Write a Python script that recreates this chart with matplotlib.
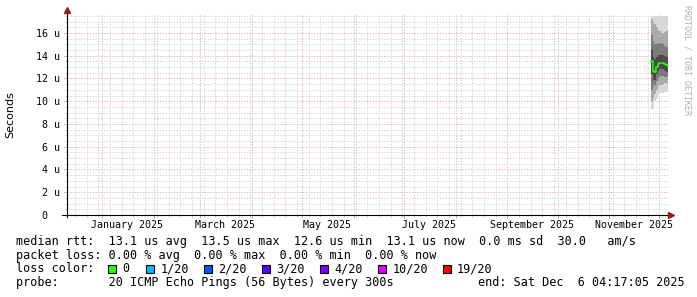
import numpy as np
import pandas as pd
import matplotlib.pyplot as plt
import matplotlib.dates as mdates
from matplotlib.patches import Rectangle

plt.rcParams['font.family'] = ['DejaVu Sans Mono']

# time range of the graph
end_time = pd.Timestamp('2025-12-06 04:17:05')
start_time = end_time - pd.Timedelta(days=360)

# smoke / median data (microseconds), one sample per day
days = ['2025-11-26 00:00:00', '2025-11-27 00:00:00', '2025-11-28 00:00:00',
        '2025-11-29 00:00:00', '2025-11-30 00:00:00', '2025-12-01 00:00:00',
        '2025-12-02 00:00:00', '2025-12-03 00:00:00', '2025-12-04 00:00:00',
        '2025-12-05 00:00:00', '2025-12-06 04:17:05']
median = [13.5, 12.7, 12.6, 13.0, 13.3, 13.4, 13.4, 13.4, 13.3, 13.2, 13.1]
ping_max = [17.5, 17.5, 17.5, 17.5, 17.5, 17.5, 17.5, 17.5, 17.5, 17.5, 17.5]
ping_min = [9.3, 9.5, 10.0, 10.2, 10.6, 10.7, 10.7, 10.7, 10.8, 10.8, 10.8]
p90 = [17.2, 17.0, 16.8, 16.5, 16.3, 16.2, 16.0, 16.0, 16.1, 16.2, 16.2]
p10 = [10.0, 10.3, 10.6, 11.0, 11.3, 11.4, 11.4, 11.5, 11.6, 11.6, 11.6]
p75 = [15.8, 15.3, 15.0, 15.0, 15.0, 15.1, 15.0, 15.0, 14.9, 14.8, 14.8]
p25 = [11.0, 11.3, 11.4, 11.8, 12.0, 12.2, 12.2, 12.2, 12.1, 12.1, 12.1]
p60 = [14.5, 13.9, 13.7, 13.9, 14.1, 14.1, 14.1, 14.1, 14.0, 13.9, 13.9]
p40 = [12.4, 11.9, 11.9, 12.4, 12.7, 12.8, 12.8, 12.8, 12.7, 12.6, 12.5]

# y axis
y_ticks = [0, 2, 4, 6, 8, 10, 12, 14, 16]
y_labels = ['0  ', ' 2 u', ' 4 u', ' 6 u', ' 8 u', '10 u', '12 u', '14 u', '16 u']

# x labels (every second month)
month_labels = ['January 2025', 'March 2025', 'May 2025', 'July 2025',
                'September 2025', 'November 2025']
month_starts = ['2025-01-01', '2025-03-01', '2025-05-01', '2025-07-01',
                '2025-09-01', '2025-11-01']

# legend texts
legend_lines = [
    'median rtt:  13.1 us avg  13.5 us max  12.6 us min  13.1 us now  0.0 ms sd  30.0   am/s',
    'packet loss: 0.00 % avg  0.00 % max  0.00 % min  0.00 % now',
    'loss color:',
    'probe:       20 ICMP Echo Pings (56 Bytes) every 300s',
]
end_text = 'end: Sat Dec  6 04:17:05 2025'
loss_labels = ['0', '1/20', '2/20', '3/20', '4/20', '10/20', '19/20']
loss_colors = ['#26ff00', '#00b8ff', '#0059ff', '#5e00ff', '#7e00ff', '#dd00ff', '#ff0000']

W, H = 697, 297
fig = plt.figure(figsize=(W / 100, H / 100), dpi=100)
fig.patch.set_facecolor('white')
ax = fig.add_axes([67 / W, (H - 215) / H, 601 / W, 201 / H])

x = mdates.date2num(pd.to_datetime(days, format='%Y-%m-%d %H:%M:%S'))

# smoke bands, outer light to inner dark
bands = [(ping_min, ping_max, '#d8d8d8'),
         (p10, p90, '#aaaaaa'),
         (p25, p75, '#7c7c7c'),
         (p40, p60, '#4a4a4a')]
for lo, hi, c in bands:
    ax.fill_between(x, lo, hi, step='post', color=c, linewidth=0, zorder=2)

ax.step(x, median, where='post', color='#26ff00', linewidth=1.1, zorder=3)

ax.set_xlim(mdates.date2num(start_time), mdates.date2num(end_time))
ax.set_ylim(0, 17.67)

# grid
ax.xaxis.set_major_locator(mdates.MonthLocator())
ax.xaxis.set_minor_locator(mdates.WeekdayLocator(byweekday=mdates.MO))
ax.set_yticks(y_ticks)
ax.set_yticks(np.arange(0, 17.6, 0.5), minor=True)
ax.set_yticklabels(y_labels, fontsize=7.2)
ax.set_xticklabels([])
dots = (0, (1.4, 1.4))
ax.grid(which='minor', color='#d8d8d8', linestyle=dots, linewidth=0.72, zorder=0)
ax.grid(which='major', color='#f0b4b4', linestyle=dots, linewidth=0.72, zorder=1)
ax.set_axisbelow(True)
ax.tick_params(which='major', length=2.2, width=0.7, color='#aaaaaa', pad=3)
ax.tick_params(which='minor', length=1.4, width=0.7, color='#cccccc')
for s in ax.spines.values():
    s.set_visible(False)

# axis lines with arrows
axc = '#000000'
ax.plot([-5 / 601, 603 / 601], [0, 0], transform=ax.transAxes, color=axc,
        lw=0.8, clip_on=False, zorder=5)
ax.plot([0, 0], [-2 / 201, 1 + 2 / 201], transform=ax.transAxes, color=axc,
        lw=0.8, clip_on=False, zorder=5)
ax.plot([604 / 601], [0], transform=ax.transAxes, marker='>', color='#9a1a1a',
        markersize=4.5, clip_on=False, zorder=6)
ax.plot([0], [1 + 3.5 / 201], transform=ax.transAxes, marker='^', color='#9a1a1a',
        markersize=4.5, clip_on=False, zorder=6)

# month labels centred in their month
trans = ax.get_xaxis_transform()
for lab, ms in zip(month_labels, month_starts):
    xc = mdates.date2num(pd.Timestamp(ms) + pd.Timedelta(days=15))
    ax.text(xc, -4.5 / 201, lab, transform=trans, ha='center', va='top', fontsize=7.2)

fig.text(10 / W, 1 - 115 / H, 'Seconds', rotation=90, ha='center', va='center',
         fontsize=8, family='DejaVu Sans')
fig.text(687 / W, 1 - 5 / H, 'RRDTOOL / TOBI OETIKER', rotation=270, ha='center',
         va='top', fontsize=6, color='#b0b0b0')

# legend
rows = [241.7, 255.2, 269.0, 282.8]
for txt, yy in zip(legend_lines, rows):
    fig.text(16 / W, 1 - yy / H, txt, ha='left', va='center', fontsize=8.5)
fig.text(478 / W, 1 - rows[3] / H, end_text, ha='left', va='center', fontsize=8.5)

box_x = [108, 146, 204, 262, 320, 378, 442.5]
for bx, lab, c in zip(box_x, loss_labels, loss_colors):
    fig.patches.append(Rectangle((bx / W, 1 - 273 / H), 8 / W, 8 / H,
                                 transform=fig.transFigure, facecolor=c,
                                 edgecolor='black', linewidth=0.8))
    fig.text((bx + 14.5) / W, 1 - rows[2] / H, lab, ha='left', va='center', fontsize=8.5)

fig.savefig('out.png', dpi=100)
